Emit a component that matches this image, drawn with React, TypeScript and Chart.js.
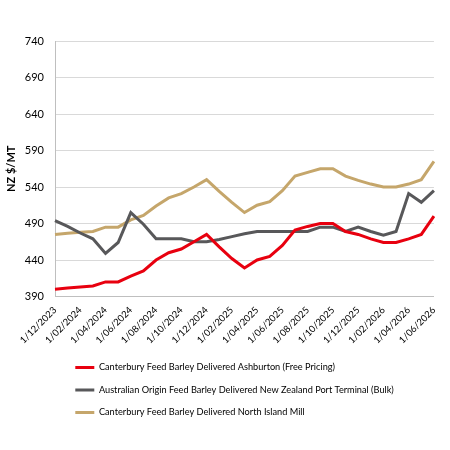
import React, { useEffect, useRef } from "react";
import { Chart, registerables } from "chart.js";
Chart.register(...registerables);

const dates = [
  "1/12/2023",
  "1/01/2024", "1/02/2024", "1/03/2024", "1/04/2024", "1/05/2024", "1/06/2024",
  "1/07/2024", "1/08/2024", "1/09/2024", "1/10/2024", "1/11/2024", "1/12/2024",
  "1/01/2025", "1/02/2025", "1/03/2025", "1/04/2025", "1/05/2025", "1/06/2025",
  "1/07/2025", "1/08/2025", "1/09/2025", "1/10/2025", "1/11/2025", "1/12/2025",
  "1/01/2026", "1/02/2026", "1/03/2026", "1/04/2026", "1/05/2026", "1/06/2026",
];

const ashburton = [400, 401.5, 403, 404.5, 410, 410, 418, 425, 440, 450, 455, 465, 475, 458, 442, 429, 440, 445, 460, 481, 486, 490, 490, 479, 475, 469, 464, 464, 469, 475, 500];
const australian = [494, 486, 477, 469, 449, 464, 505, 489, 469, 469, 469, 465, 465, 468, 472, 476, 479, 479, 479, 479, 479, 485, 485, 479, 485, 479, 474, 479, 531, 519, 535];
const northIsland = [475, 476.5, 478, 479, 485, 485, 495, 501, 514, 525, 531, 540, 550, 534, 519, 505, 515, 520, 535, 555, 560, 565, 565, 555, 549, 544, 540, 540, 544, 550, 575];

const seriesNames = [
  "Canterbury Feed Barley Delivered Ashburton (Free Pricing)",
  "Australian Origin Feed Barley Delivered New Zealand Port Terminal (Bulk)",
  "Canterbury Feed Barley Delivered North Island Mill",
];
const colors = ["#e8000f", "#58585a", "#c5a66b"];

const yMin = 390;
const yMax = 740;
const yStep = 50;
const yTitle = "NZ $/MT";

const FONT = "Lato, 'Open Sans', sans-serif";

export default function App() {
  const ref = useRef<HTMLCanvasElement>(null);
  useEffect(() => {
    if (!ref.current) return;
    const shiftLegend = {
      id: "shiftLegend",
      afterLayout(chart: any) {
        if (chart.legend) {
          chart.legend.left += 7;
          chart.legend.right += 7;
        }
      },
    };
    const chart = new Chart(ref.current, {
      type: "line",
      data: {
        labels: dates,
        datasets: [ashburton, australian, northIsland].map((d, i) => ({
          label: seriesNames[i],
          data: d,
          borderColor: colors[i],
          backgroundColor: colors[i],
          borderWidth: 3,
          pointRadius: 0,
          tension: 0,
        })),
      },
      options: {
        animation: false,
        responsive: false,
        layout: { padding: { top: 41, right: 5, bottom: 23, left: 0 } },
        plugins: {
          tooltip: { enabled: false },
          legend: {
            position: "bottom",
            align: "start",
            fullSize: false,
            labels: {
              boxWidth: 19,
              boxHeight: 3,
              padding: 13.3,
              color: "#000",
              font: { family: FONT, size: 9.2 },
              generateLabels: (c: any) =>
                c.data.datasets.map((ds: any, i: number) => ({
                  text: ds.label,
                  fillStyle: ds.borderColor,
                  strokeStyle: ds.borderColor,
                  lineWidth: 0,
                  hidden: false,
                  datasetIndex: i,
                })),
            },
          },
        },
        scales: {
          x: {
            grid: { display: false, drawTicks: false },
            border: { display: true, color: "#bfbfbf" },
            ticks: {
              autoSkip: false,
              maxRotation: 45,
              minRotation: 45,
              padding: 8,
              color: "#000",
              font: { family: FONT, size: 9.5 },
              callback: (_v: any, i: number) => (i % 2 === 0 ? dates[i] : ""),
            },
            afterFit: (s: any) => {
              s.height = 53;
            },
          },
          y: {
            min: yMin,
            max: yMax,
            grid: { color: "#d9d9d9", lineWidth: 1, drawTicks: false },
            border: { display: true, color: "#bfbfbf" },
            ticks: {
              stepSize: yStep,
              padding: 11,
              color: "#000",
              font: { family: FONT, size: 11 },
            },
            title: {
              display: true,
              text: yTitle,
              color: "#000",
              font: { family: FONT, size: 11, weight: "bold" },
              padding: { top: 5, bottom: 4 },
            },
            afterFit: (s: any) => {
              s.width = 55;
            },
          },
        },
      },
      plugins: [shiftLegend],
    } as any);
    return () => chart.destroy();
  }, []);
  return (
    <div style={{ position: "absolute", left: 0, top: 0, width: 450, height: 450, background: "#fff" }}>
      <canvas ref={ref} width={450} height={450} />
    </div>
  );
}
